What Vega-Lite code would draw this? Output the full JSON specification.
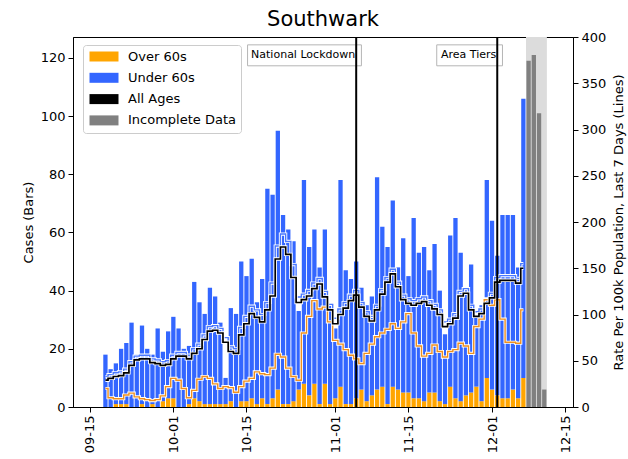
{
  "$schema": "https://vega.github.io/schema/vega-lite/v6.json",
  "width": 500,
  "height": 370,
  "autosize": {"type": "none"},
  "padding": {"left": 73, "top": 37, "right": 55, "bottom": 52},
  "background": "white",
  "config": {
    "font": "DejaVu Sans",
    "view": {"stroke": "black", "strokeWidth": 1},
    "axis": {
      "labelFont": "DejaVu Sans", "titleFont": "DejaVu Sans",
      "labelFontSize": 13, "titleFontSize": 13, "titleFontWeight": "normal",
      "labelColor": "black", "titleColor": "black", "tickColor": "black", "domainColor": "black",
      "tickSize": 5, "grid": false, "labelPadding": 3
    },
    "legend": {
      "labelFont": "DejaVu Sans", "labelFontSize": 13, "labelColor": "black",
      "symbolType": "M-1,-1H4.8V1H-1Z", "symbolSize": 100,
      "symbolStrokeWidth": 0, "symbolOpacity": 1,
      "labelOffset": 27, "rowPadding": 7.3, "padding": 5,
      "strokeColor": "#cccccc", "fillColor": "white", "cornerRadius": 3
    }
  },
  "title": {"text": "Southwark", "fontSize": 21, "fontWeight": "normal", "font": "DejaVu Sans", "color": "black", "offset": 1},
  "datasets": {
    "daily": [
      {"date": "2020-09-18", "over60": 0, "under60": 18, "rateAll": 29, "rateOver60": 20, "rateUnder60": 33},
      {"date": "2020-09-19", "over60": 0, "under60": 13, "rateAll": 31, "rateOver60": 10, "rateUnder60": 35},
      {"date": "2020-09-20", "over60": 1, "under60": 14, "rateAll": 33, "rateOver60": 9, "rateUnder60": 37},
      {"date": "2020-09-21", "over60": 1, "under60": 19, "rateAll": 34, "rateOver60": 9, "rateUnder60": 38},
      {"date": "2020-09-22", "over60": 1, "under60": 21, "rateAll": 37, "rateOver60": 13, "rateUnder60": 41},
      {"date": "2020-09-23", "over60": 0, "under60": 29, "rateAll": 45, "rateOver60": 15, "rateUnder60": 49},
      {"date": "2020-09-24", "over60": 0, "under60": 18, "rateAll": 51, "rateOver60": 11, "rateUnder60": 55},
      {"date": "2020-09-25", "over60": 1, "under60": 27, "rateAll": 52, "rateOver60": 9, "rateUnder60": 56},
      {"date": "2020-09-26", "over60": 0, "under60": 20, "rateAll": 52, "rateOver60": 8, "rateUnder60": 56},
      {"date": "2020-09-27", "over60": 1, "under60": 17, "rateAll": 48, "rateOver60": 7, "rateUnder60": 52},
      {"date": "2020-09-28", "over60": 0, "under60": 27, "rateAll": 47, "rateOver60": 8, "rateUnder60": 51},
      {"date": "2020-09-29", "over60": 2, "under60": 17, "rateAll": 45, "rateOver60": 12, "rateUnder60": 49},
      {"date": "2020-09-30", "over60": 3, "under60": 23, "rateAll": 46, "rateOver60": 22, "rateUnder60": 50},
      {"date": "2020-10-01", "over60": 3, "under60": 28, "rateAll": 52, "rateOver60": 31, "rateUnder60": 56},
      {"date": "2020-10-02", "over60": 0, "under60": 27, "rateAll": 55, "rateOver60": 29, "rateUnder60": 59},
      {"date": "2020-10-03", "over60": 0, "under60": 20, "rateAll": 55, "rateOver60": 20, "rateUnder60": 59},
      {"date": "2020-10-04", "over60": 1, "under60": 20, "rateAll": 52, "rateOver60": 10, "rateUnder60": 56},
      {"date": "2020-10-05", "over60": 3, "under60": 40, "rateAll": 58, "rateOver60": 18, "rateUnder60": 63},
      {"date": "2020-10-06", "over60": 2, "under60": 34, "rateAll": 63, "rateOver60": 30, "rateUnder60": 68},
      {"date": "2020-10-07", "over60": 1, "under60": 31, "rateAll": 73, "rateOver60": 33, "rateUnder60": 78},
      {"date": "2020-10-08", "over60": 1, "under60": 40, "rateAll": 82, "rateOver60": 31, "rateUnder60": 87},
      {"date": "2020-10-09", "over60": 1, "under60": 37, "rateAll": 83, "rateOver60": 25, "rateUnder60": 88},
      {"date": "2020-10-10", "over60": 1, "under60": 28, "rateAll": 80, "rateOver60": 20, "rateUnder60": 85},
      {"date": "2020-10-11", "over60": 1, "under60": 9, "rateAll": 70, "rateOver60": 22, "rateUnder60": 75},
      {"date": "2020-10-12", "over60": 2, "under60": 32, "rateAll": 60, "rateOver60": 21, "rateUnder60": 65},
      {"date": "2020-10-13", "over60": 0, "under60": 32, "rateAll": 58, "rateOver60": 16, "rateUnder60": 63},
      {"date": "2020-10-14", "over60": 2, "under60": 48, "rateAll": 78, "rateOver60": 22, "rateUnder60": 86},
      {"date": "2020-10-15", "over60": 2, "under60": 43, "rateAll": 90, "rateOver60": 28, "rateUnder60": 98},
      {"date": "2020-10-16", "over60": 3, "under60": 48, "rateAll": 101, "rateOver60": 31, "rateUnder60": 109},
      {"date": "2020-10-17", "over60": 1, "under60": 35, "rateAll": 97, "rateOver60": 38, "rateUnder60": 105},
      {"date": "2020-10-18", "over60": 3, "under60": 41, "rateAll": 92, "rateOver60": 36, "rateUnder60": 100},
      {"date": "2020-10-19", "over60": 1, "under60": 74, "rateAll": 105, "rateOver60": 35, "rateUnder60": 113},
      {"date": "2020-10-20", "over60": 3, "under60": 70, "rateAll": 120, "rateOver60": 42, "rateUnder60": 134},
      {"date": "2020-10-21", "over60": 6, "under60": 89, "rateAll": 160, "rateOver60": 57, "rateUnder60": 174},
      {"date": "2020-10-22", "over60": 1, "under60": 65, "rateAll": 173, "rateOver60": 54, "rateUnder60": 187},
      {"date": "2020-10-23", "over60": 1, "under60": 60, "rateAll": 165, "rateOver60": 42, "rateUnder60": 179},
      {"date": "2020-10-24", "over60": 2, "under60": 55, "rateAll": 140, "rateOver60": 33, "rateUnder60": 154},
      {"date": "2020-10-25", "over60": 6, "under60": 27, "rateAll": 113, "rateOver60": 29, "rateUnder60": 119},
      {"date": "2020-10-26", "over60": 8, "under60": 70, "rateAll": 116, "rateOver60": 80, "rateUnder60": 122},
      {"date": "2020-10-27", "over60": 4, "under60": 51, "rateAll": 120, "rateOver60": 98, "rateUnder60": 126},
      {"date": "2020-10-28", "over60": 8, "under60": 53, "rateAll": 128, "rateOver60": 115, "rateUnder60": 134},
      {"date": "2020-10-29", "over60": 1, "under60": 47, "rateAll": 133, "rateOver60": 106, "rateUnder60": 139},
      {"date": "2020-10-30", "over60": 8, "under60": 53, "rateAll": 119, "rateOver60": 108, "rateUnder60": 125},
      {"date": "2020-10-31", "over60": 1, "under60": 34, "rateAll": 105, "rateOver60": 92, "rateUnder60": 111},
      {"date": "2020-11-01", "over60": 3, "under60": 24, "rateAll": 90, "rateOver60": 72, "rateUnder60": 96},
      {"date": "2020-11-02", "over60": 7, "under60": 71, "rateAll": 100, "rateOver60": 68, "rateUnder60": 106},
      {"date": "2020-11-03", "over60": 1, "under60": 46, "rateAll": 107, "rateOver60": 62, "rateUnder60": 113},
      {"date": "2020-11-04", "over60": 1, "under60": 43, "rateAll": 115, "rateOver60": 56, "rateUnder60": 121},
      {"date": "2020-11-05", "over60": 3, "under60": 47, "rateAll": 121, "rateOver60": 52, "rateUnder60": 126},
      {"date": "2020-11-06", "over60": 6, "under60": 35, "rateAll": 108, "rateOver60": 47, "rateUnder60": 113},
      {"date": "2020-11-07", "over60": 2, "under60": 33, "rateAll": 98, "rateOver60": 58, "rateUnder60": 103},
      {"date": "2020-11-08", "over60": 4, "under60": 34, "rateAll": 93, "rateOver60": 68, "rateUnder60": 98},
      {"date": "2020-11-09", "over60": 6, "under60": 73, "rateAll": 105, "rateOver60": 76, "rateUnder60": 110},
      {"date": "2020-11-10", "over60": 7, "under60": 55, "rateAll": 122, "rateOver60": 80, "rateUnder60": 127},
      {"date": "2020-11-11", "over60": 1, "under60": 54, "rateAll": 135, "rateOver60": 84, "rateUnder60": 140},
      {"date": "2020-11-12", "over60": 7, "under60": 64, "rateAll": 144, "rateOver60": 90, "rateUnder60": 149},
      {"date": "2020-11-13", "over60": 6, "under60": 42, "rateAll": 130, "rateOver60": 85, "rateUnder60": 135},
      {"date": "2020-11-14", "over60": 5, "under60": 53, "rateAll": 116, "rateOver60": 92, "rateUnder60": 121},
      {"date": "2020-11-15", "over60": 5, "under60": 40, "rateAll": 112, "rateOver60": 101, "rateUnder60": 117},
      {"date": "2020-11-16", "over60": 3, "under60": 62, "rateAll": 110, "rateOver60": 80, "rateUnder60": 115},
      {"date": "2020-11-17", "over60": 3, "under60": 50, "rateAll": 112, "rateOver60": 66, "rateUnder60": 117},
      {"date": "2020-11-18", "over60": 2, "under60": 53, "rateAll": 114, "rateOver60": 55, "rateUnder60": 119},
      {"date": "2020-11-19", "over60": 5, "under60": 42, "rateAll": 110, "rateOver60": 58, "rateUnder60": 115},
      {"date": "2020-11-20", "over60": 5, "under60": 51, "rateAll": 106, "rateOver60": 67, "rateUnder60": 111},
      {"date": "2020-11-21", "over60": 2, "under60": 38, "rateAll": 100, "rateOver60": 60, "rateUnder60": 105},
      {"date": "2020-11-22", "over60": 1, "under60": 24, "rateAll": 87, "rateOver60": 54, "rateUnder60": 92},
      {"date": "2020-11-23", "over60": 7, "under60": 52, "rateAll": 90, "rateOver60": 60, "rateUnder60": 95},
      {"date": "2020-11-24", "over60": 3, "under60": 62, "rateAll": 96, "rateOver60": 62, "rateUnder60": 101},
      {"date": "2020-11-25", "over60": 2, "under60": 51, "rateAll": 120, "rateOver60": 69, "rateUnder60": 125},
      {"date": "2020-11-26", "over60": 4, "under60": 37, "rateAll": 123, "rateOver60": 66, "rateUnder60": 128},
      {"date": "2020-11-27", "over60": 5, "under60": 44, "rateAll": 105, "rateOver60": 58, "rateUnder60": 110},
      {"date": "2020-11-28", "over60": 7, "under60": 24, "rateAll": 98, "rateOver60": 87, "rateUnder60": 103},
      {"date": "2020-11-29", "over60": 2, "under60": 33, "rateAll": 101, "rateOver60": 95, "rateUnder60": 106},
      {"date": "2020-11-30", "over60": 10, "under60": 68, "rateAll": 112, "rateOver60": 116, "rateUnder60": 117},
      {"date": "2020-12-01", "over60": 6, "under60": 58, "rateAll": 118, "rateOver60": 110, "rateUnder60": 123},
      {"date": "2020-12-02", "over60": 4, "under60": 48, "rateAll": 135, "rateOver60": 116, "rateUnder60": 140},
      {"date": "2020-12-03", "over60": 3, "under60": 63, "rateAll": 137, "rateOver60": 95, "rateUnder60": 142},
      {"date": "2020-12-04", "over60": 3, "under60": 63, "rateAll": 137, "rateOver60": 70, "rateUnder60": 142},
      {"date": "2020-12-05", "over60": 6, "under60": 60, "rateAll": 137, "rateOver60": 70, "rateUnder60": 142},
      {"date": "2020-12-06", "over60": 3, "under60": 45, "rateAll": 134, "rateOver60": 69, "rateUnder60": 139},
      {"date": "2020-12-07", "over60": 10, "under60": 96, "rateAll": 150, "rateOver60": 105, "rateUnder60": 155}
    ],
    "incomplete": [
      {"date": "2020-12-08", "cases": 119},
      {"date": "2020-12-09", "cases": 121},
      {"date": "2020-12-10", "cases": 101},
      {"date": "2020-12-11", "cases": 6}
    ],
    "shade": [
      {"start": "2020-12-07T12:00:00Z", "end": "2020-12-11T12:00:00Z"}
    ],
    "events": [
      {"date": "2020-11-05", "label": "National Lockdown", "boxStart": "2020-10-15T05:00:00Z", "boxEnd": "2020-11-06T00:00:00Z"},
      {"date": "2020-12-02", "label": "Area Tiers", "boxStart": "2020-11-20T10:00:00Z", "boxEnd": "2020-12-03T00:00:00Z"}
    ]
  },
  "layer": [
    {
      "layer": [
        {
          "data": {"name": "shade"},
          "mark": {"type": "rect", "color": "#dcdcdc"},
          "encoding": {
            "x": {"field": "start", "type": "temporal", "title": null,
              "scale": {"type": "utc", "domain": [{"year": 2020, "month": 9, "date": 12, "hours": 18, "utc": true}, {"year": 2020, "month": 12, "date": 15, "hours": 13, "utc": true}]},
              "axis": {"values": [{"year": 2020, "month": 9, "date": 15, "utc": true}, {"year": 2020, "month": 10, "date": 1, "utc": true}, {"year": 2020, "month": 10, "date": 15, "utc": true}, {"year": 2020, "month": 11, "date": 1, "utc": true}, {"year": 2020, "month": 11, "date": 15, "utc": true}, {"year": 2020, "month": 12, "date": 1, "utc": true}, {"year": 2020, "month": 12, "date": 15, "utc": true}], "labelExpr": "utcFormat(datum.value, '%m-%d')", "labelAngle": 270, "title": null}},
            "x2": {"field": "end"}
          }
        },
        {
          "data": {"name": "daily"},
          "transform": [{"fold": ["over60", "under60"], "as": ["group", "cases"]}],
          "mark": {"type": "bar", "width": 4.3},
          "encoding": {
            "x": {"field": "date", "type": "temporal", "title": null,
              "scale": {"type": "utc", "domain": [{"year": 2020, "month": 9, "date": 12, "hours": 18, "utc": true}, {"year": 2020, "month": 12, "date": 15, "hours": 13, "utc": true}]},
              "axis": {"values": [{"year": 2020, "month": 9, "date": 15, "utc": true}, {"year": 2020, "month": 10, "date": 1, "utc": true}, {"year": 2020, "month": 10, "date": 15, "utc": true}, {"year": 2020, "month": 11, "date": 1, "utc": true}, {"year": 2020, "month": 11, "date": 15, "utc": true}, {"year": 2020, "month": 12, "date": 1, "utc": true}, {"year": 2020, "month": 12, "date": 15, "utc": true}], "labelExpr": "utcFormat(datum.value, '%m-%d')", "labelAngle": 270, "title": null}},
            "y": {"field": "cases", "type": "quantitative", "stack": "zero",
              "scale": {"domain": [0, 127.2], "nice": false},
              "axis": {"title": "Cases (Bars)", "values": [0, 20, 40, 60, 80, 100, 120], "titlePadding": 5}},
            "color": {"field": "group", "type": "nominal",
              "scale": {"domain": ["over60", "under60", "all", "incomplete"], "range": ["#ffa500", "#3366ff", "#000000", "#808080"]},
              "legend": {"title": null, "orient": "none", "legendX": 10, "legendY": 8,
                "labelExpr": "{'over60': 'Over 60s', 'under60': 'Under 60s', 'all': 'All Ages', 'incomplete': 'Incomplete Data'}[datum.label]"}},
            "order": {"field": "group", "sort": "ascending"}
          }
        },
        {
          "data": {"name": "incomplete"},
          "mark": {"type": "bar", "width": 4.3},
          "encoding": {
            "x": {"field": "date", "type": "temporal", "title": null,
              "scale": {"type": "utc", "domain": [{"year": 2020, "month": 9, "date": 12, "hours": 18, "utc": true}, {"year": 2020, "month": 12, "date": 15, "hours": 13, "utc": true}]},
              "axis": {"values": [{"year": 2020, "month": 9, "date": 15, "utc": true}, {"year": 2020, "month": 10, "date": 1, "utc": true}, {"year": 2020, "month": 10, "date": 15, "utc": true}, {"year": 2020, "month": 11, "date": 1, "utc": true}, {"year": 2020, "month": 11, "date": 15, "utc": true}, {"year": 2020, "month": 12, "date": 1, "utc": true}, {"year": 2020, "month": 12, "date": 15, "utc": true}], "labelExpr": "utcFormat(datum.value, '%m-%d')", "labelAngle": 270, "title": null}},
            "y": {"field": "cases", "type": "quantitative",
              "scale": {"domain": [0, 127.2], "nice": false},
              "axis": {"title": "Cases (Bars)", "values": [0, 20, 40, 60, 80, 100, 120], "titlePadding": 5}},
            "color": {"datum": "incomplete", "type": "nominal"}
          }
        }
      ]
    },
    {
      "data": {"name": "daily"},
      "encoding": {
        "x": {"field": "date", "type": "temporal", "title": null,
          "scale": {"type": "utc", "domain": [{"year": 2020, "month": 9, "date": 12, "hours": 18, "utc": true}, {"year": 2020, "month": 12, "date": 15, "hours": 13, "utc": true}]},
          "axis": {"values": [{"year": 2020, "month": 9, "date": 15, "utc": true}, {"year": 2020, "month": 10, "date": 1, "utc": true}, {"year": 2020, "month": 10, "date": 15, "utc": true}, {"year": 2020, "month": 11, "date": 1, "utc": true}, {"year": 2020, "month": 11, "date": 15, "utc": true}, {"year": 2020, "month": 12, "date": 1, "utc": true}, {"year": 2020, "month": 12, "date": 15, "utc": true}], "labelExpr": "utcFormat(datum.value, '%m-%d')", "labelAngle": 270, "title": null}}
      },
      "layer": [
        {"mark": {"type": "line", "interpolate": "step", "color": "white", "strokeWidth": 3.2},
         "encoding": {"y": {"field": "rateUnder60", "type": "quantitative", "scale": {"domain": [0, 400], "nice": false}, "axis": {"orient": "right", "title": "Rate Per 100k Population, Last 7 Days (Lines)", "titleAngle": 270, "values": [0, 50, 100, 150, 200, 250, 300, 350, 400], "titlePadding": 20}}}},
        {"mark": {"type": "line", "interpolate": "step", "color": "#4a78ff", "strokeWidth": 1.4},
         "encoding": {"y": {"field": "rateUnder60", "type": "quantitative", "scale": {"domain": [0, 400], "nice": false}, "axis": {"orient": "right", "title": "Rate Per 100k Population, Last 7 Days (Lines)", "titleAngle": 270, "values": [0, 50, 100, 150, 200, 250, 300, 350, 400], "titlePadding": 20}}}},
        {"mark": {"type": "line", "interpolate": "step", "color": "white", "strokeWidth": 3.2},
         "encoding": {"y": {"field": "rateOver60", "type": "quantitative", "scale": {"domain": [0, 400], "nice": false}, "axis": {"orient": "right", "title": "Rate Per 100k Population, Last 7 Days (Lines)", "titleAngle": 270, "values": [0, 50, 100, 150, 200, 250, 300, 350, 400], "titlePadding": 20}}}},
        {"mark": {"type": "line", "interpolate": "step", "color": "#ee9020", "strokeWidth": 1.4},
         "encoding": {"y": {"field": "rateOver60", "type": "quantitative", "scale": {"domain": [0, 400], "nice": false}, "axis": {"orient": "right", "title": "Rate Per 100k Population, Last 7 Days (Lines)", "titleAngle": 270, "values": [0, 50, 100, 150, 200, 250, 300, 350, 400], "titlePadding": 20}}}},
        {"mark": {"type": "line", "interpolate": "step", "color": "white", "strokeWidth": 3.4},
         "encoding": {"y": {"field": "rateAll", "type": "quantitative", "scale": {"domain": [0, 400], "nice": false}, "axis": {"orient": "right", "title": "Rate Per 100k Population, Last 7 Days (Lines)", "titleAngle": 270, "values": [0, 50, 100, 150, 200, 250, 300, 350, 400], "titlePadding": 20}}}},
        {"mark": {"type": "line", "interpolate": "step", "color": "black", "strokeWidth": 1.7},
         "encoding": {"y": {"field": "rateAll", "type": "quantitative", "scale": {"domain": [0, 400], "nice": false}, "axis": {"orient": "right", "title": "Rate Per 100k Population, Last 7 Days (Lines)", "titleAngle": 270, "values": [0, 50, 100, 150, 200, 250, 300, 350, 400], "titlePadding": 20}}}}
      ]
    },
    {
      "data": {"name": "events"},
      "layer": [
        {"mark": {"type": "rect", "fill": "white", "stroke": "#b5b5b5", "strokeWidth": 1},
         "encoding": {
           "x": {"field": "boxStart", "type": "temporal", "title": null,
             "scale": {"type": "utc", "domain": [{"year": 2020, "month": 9, "date": 12, "hours": 18, "utc": true}, {"year": 2020, "month": 12, "date": 15, "hours": 13, "utc": true}]},
             "axis": {"values": [{"year": 2020, "month": 9, "date": 15, "utc": true}, {"year": 2020, "month": 10, "date": 1, "utc": true}, {"year": 2020, "month": 10, "date": 15, "utc": true}, {"year": 2020, "month": 11, "date": 1, "utc": true}, {"year": 2020, "month": 11, "date": 15, "utc": true}, {"year": 2020, "month": 12, "date": 1, "utc": true}, {"year": 2020, "month": 12, "date": 15, "utc": true}], "labelExpr": "utcFormat(datum.value, '%m-%d')", "labelAngle": 270, "title": null}},
           "x2": {"field": "boxEnd"},
           "y": {"datum": 124.5, "type": "quantitative", "scale": {"domain": [0, 127.2], "nice": false}, "axis": null},
           "y2": {"datum": 117.3}
         }},
        {"mark": {"type": "text", "align": "right", "baseline": "middle", "fontSize": 11, "font": "DejaVu Sans", "color": "black", "dx": -1},
         "encoding": {
           "x": {"field": "date", "type": "temporal", "title": null,
             "scale": {"type": "utc", "domain": [{"year": 2020, "month": 9, "date": 12, "hours": 18, "utc": true}, {"year": 2020, "month": 12, "date": 15, "hours": 13, "utc": true}]},
             "axis": {"values": [{"year": 2020, "month": 9, "date": 15, "utc": true}, {"year": 2020, "month": 10, "date": 1, "utc": true}, {"year": 2020, "month": 10, "date": 15, "utc": true}, {"year": 2020, "month": 11, "date": 1, "utc": true}, {"year": 2020, "month": 11, "date": 15, "utc": true}, {"year": 2020, "month": 12, "date": 1, "utc": true}, {"year": 2020, "month": 12, "date": 15, "utc": true}], "labelExpr": "utcFormat(datum.value, '%m-%d')", "labelAngle": 270, "title": null}},
           "y": {"datum": 121.0, "type": "quantitative", "scale": {"domain": [0, 127.2], "nice": false}, "axis": null},
           "text": {"field": "label"}
         }},
        {"mark": {"type": "rule", "color": "black", "strokeWidth": 2},
         "encoding": {
           "x": {"field": "date", "type": "temporal", "title": null,
             "scale": {"type": "utc", "domain": [{"year": 2020, "month": 9, "date": 12, "hours": 18, "utc": true}, {"year": 2020, "month": 12, "date": 15, "hours": 13, "utc": true}]},
             "axis": {"values": [{"year": 2020, "month": 9, "date": 15, "utc": true}, {"year": 2020, "month": 10, "date": 1, "utc": true}, {"year": 2020, "month": 10, "date": 15, "utc": true}, {"year": 2020, "month": 11, "date": 1, "utc": true}, {"year": 2020, "month": 11, "date": 15, "utc": true}, {"year": 2020, "month": 12, "date": 1, "utc": true}, {"year": 2020, "month": 12, "date": 15, "utc": true}], "labelExpr": "utcFormat(datum.value, '%m-%d')", "labelAngle": 270, "title": null}}
         }}
      ]
    }
  ],
  "resolve": {"scale": {"y": "independent"}}
}
